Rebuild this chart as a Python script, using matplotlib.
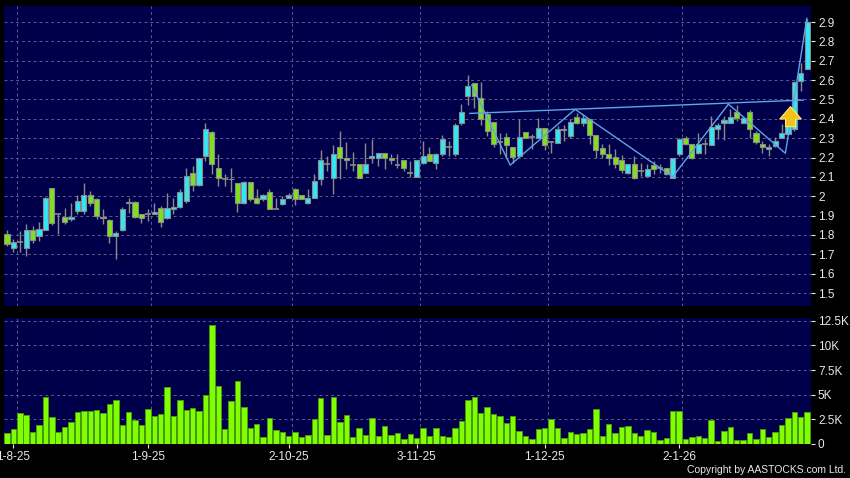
import matplotlib
matplotlib.use("Agg")
import matplotlib.pyplot as plt
import numpy as np

# daily candles, 31-7-25 .. end of Jan-26
opens = [1.803, 1.734, 1.762, 1.734, 1.824, 1.793, 1.824, 2.045, 1.907, 1.893,
         1.885, 1.924, 1.924, 2.005, 1.984, 1.893, 1.876, 1.795, 1.824, 1.972,
         1.972, 1.907, 1.907, 1.907, 1.941, 1.886, 1.933, 1.945, 1.976, 2.122,
         2.057, 2.209, 2.334, 2.145, 2.090, 2.090, 2.066, 1.964, 2.076, 1.993,
         1.984, 2.024, 1.933, 1.962, 1.993, 2.036, 2.005, 1.964, 1.993, 2.088,
         2.166, 2.093, 2.255, 2.197, 2.162, 2.166, 2.122, 2.200, 2.197, 2.226,
         2.197, 2.162, 2.186, 2.122, 2.102, 2.174, 2.217, 2.174, 2.217, 2.252,
         2.217, 2.376, 2.516, 2.584, 2.510, 2.424, 2.386, 2.278, 2.307, 2.252,
         2.209, 2.334, 2.307, 2.303, 2.355, 2.278, 2.274, 2.340, 2.312, 2.410,
         2.381, 2.398, 2.317, 2.248, 2.217, 2.205, 2.186, 2.122, 2.166, 2.131,
         2.105, 2.162, 2.145, 2.145, 2.093, 2.217, 2.303, 2.272, 2.226, 2.269,
         2.266, 2.347, 2.376, 2.381, 2.433, 2.381, 2.433, 2.329, 2.272, 2.243,
         2.260, 2.303, 2.324, 2.347, 2.597, 2.657]
highs = [1.824, 1.778, 1.820, 1.859, 1.847, 1.869, 1.995, 2.045, 1.907, 1.941,
         1.967, 2.007, 2.069, 2.028, 1.993, 1.933, 1.881, 1.820, 1.945, 1.993,
         1.976, 1.907, 1.933, 1.967, 1.950, 2.019, 1.993, 2.036, 2.148, 2.157,
         2.200, 2.376, 2.338, 2.217, 2.114, 2.148, 2.071, 2.079, 2.076, 2.036,
         2.014, 2.036, 1.993, 2.000, 2.019, 2.045, 2.005, 2.036, 2.114, 2.238,
         2.209, 2.266, 2.338, 2.281, 2.229, 2.166, 2.276, 2.295, 2.226, 2.226,
         2.217, 2.217, 2.186, 2.183, 2.186, 2.286, 2.252, 2.226, 2.317, 2.286,
         2.381, 2.476, 2.628, 2.584, 2.588, 2.441, 2.386, 2.329, 2.329, 2.252,
         2.398, 2.334, 2.321, 2.403, 2.355, 2.286, 2.364, 2.369, 2.398, 2.428,
         2.424, 2.398, 2.317, 2.272, 2.272, 2.243, 2.214, 2.166, 2.209, 2.174,
         2.166, 2.183, 2.166, 2.148, 2.200, 2.303, 2.312, 2.272, 2.329, 2.295,
         2.416, 2.381, 2.416, 2.450, 2.472, 2.416, 2.445, 2.338, 2.286, 2.269,
         2.307, 2.372, 2.424, 2.597, 2.690, 2.915]
lows = [1.743, 1.714, 1.714, 1.691, 1.760, 1.769, 1.824, 1.850, 1.803, 1.855,
        1.872, 1.907, 1.907, 1.950, 1.881, 1.855, 1.760, 1.674, 1.820, 1.915,
        1.886, 1.864, 1.872, 1.907, 1.841, 1.881, 1.907, 1.941, 1.967, 2.028,
        2.053, 2.183, 2.114, 2.053, 2.053, 2.024, 1.921, 1.959, 1.976, 1.959,
        1.976, 1.933, 1.933, 1.955, 1.993, 1.955, 1.984, 1.959, 1.993, 2.057,
        2.131, 2.014, 2.088, 2.140, 2.131, 2.093, 2.122, 2.174, 2.155, 2.140,
        2.166, 2.145, 2.131, 2.100, 2.100, 2.166, 2.183, 2.140, 2.209, 2.209,
        2.209, 2.369, 2.472, 2.455, 2.369, 2.312, 2.252, 2.217, 2.200, 2.174,
        2.209, 2.303, 2.243, 2.303, 2.238, 2.226, 2.274, 2.286, 2.303, 2.372,
        2.364, 2.269, 2.197, 2.197, 2.159, 2.148, 2.122, 2.114, 2.088, 2.105,
        2.097, 2.114, 2.119, 2.110, 2.093, 2.209, 2.266, 2.191, 2.217, 2.217,
        2.266, 2.295, 2.290, 2.376, 2.390, 2.376, 2.303, 2.269, 2.226, 2.209,
        2.252, 2.300, 2.320, 2.338, 2.545, 2.657]
closes = [1.755, 1.762, 1.762, 1.824, 1.772, 1.833, 1.993, 1.864, 1.907, 1.867,
          1.893, 1.976, 2.005, 1.967, 1.898, 1.886, 1.795, 1.812, 1.933, 1.965,
          1.893, 1.886, 1.907, 1.919, 1.867, 1.941, 1.945, 2.024, 2.105, 2.057,
          2.197, 2.347, 2.166, 2.093, 2.090, 2.088, 1.964, 2.076, 1.984, 1.964,
          2.005, 1.933, 1.933, 1.984, 2.005, 1.984, 1.988, 1.993, 2.079, 2.186,
          2.166, 2.217, 2.197, 2.186, 2.162, 2.093, 2.166, 2.209, 2.226, 2.197,
          2.186, 2.162, 2.145, 2.122, 2.186, 2.209, 2.183, 2.217, 2.295, 2.252,
          2.369, 2.434, 2.571, 2.516, 2.398, 2.338, 2.272, 2.278, 2.266, 2.205,
          2.307, 2.303, 2.307, 2.355, 2.266, 2.278, 2.347, 2.347, 2.386, 2.381,
          2.403, 2.317, 2.238, 2.217, 2.197, 2.169, 2.134, 2.166, 2.093, 2.131,
          2.143, 2.140, 2.145, 2.114, 2.197, 2.295, 2.272, 2.197, 2.272, 2.269,
          2.359, 2.369, 2.393, 2.410, 2.403, 2.403, 2.347, 2.278, 2.252, 2.255,
          2.286, 2.329, 2.416, 2.588, 2.638, 2.898]
volumes = [1.12, 1.46, 3.16, 2.92, 1.22, 1.90, 4.73, 2.75, 1.16, 1.67,
           2.24, 3.23, 3.30, 3.30, 3.43, 3.13, 4.01, 4.42, 1.90, 3.20,
           2.38, 1.90, 3.50, 2.82, 2.99, 5.75, 2.79, 4.45, 3.43, 3.64,
           3.37, 5.00, 12.07, 5.85, 1.53, 4.39, 6.39, 3.74, 1.60, 2.04,
           0.68, 2.62, 1.39, 1.22, 0.78, 1.19, 0.68, 0.85, 2.48, 4.66,
           0.85, 4.73, 2.21, 2.89, 0.68, 1.56, 0.92, 2.62, 0.78, 1.80,
           0.92, 1.12, 0.48, 0.99, 0.61, 1.60, 0.78, 1.60, 0.78, 0.68,
           1.56, 2.35, 4.45, 4.73, 3.09, 3.77, 3.03, 2.82, 2.07, 2.82,
           1.33, 0.78, 0.48, 1.53, 1.60, 2.48, 1.56, 0.61, 1.19, 0.99,
           1.05, 1.50, 3.50, 0.78, 1.97, 1.05, 1.67, 1.77, 1.09, 0.82,
           1.39, 1.16, 0.34, 0.54, 3.37, 3.33, 0.44, 0.65, 0.75, 0.58,
           2.38, 0.31, 1.29, 1.70, 0.37, 0.37, 1.05, 0.48, 1.50, 0.68,
           1.19, 1.90, 2.65, 3.20, 2.72, 3.23]  # thousands

date_idx = [1, 22, 44, 64, 84, 105]
date_labels = ['1-8-25', '1-9-25', '2-10-25', '3-11-25', '1-12-25', '2-1-26']

# drawn trend lines (bar index, price)
neck_x = [72.3, 124.4]
neck_y = [2.428, 2.497]
zig_x = [72.6, 78.6, 88.75, 104.0, 112.7, 121.6, 124.95]
zig_y = [2.575, 2.161, 2.449, 2.101, 2.476, 2.222, 2.919]
arrow_x = 122.4
arrow_y = [2.345, 2.478]

price_ticks = [1.5, 1.6, 1.7, 1.8, 1.9, 2.0, 2.1, 2.2, 2.3, 2.4, 2.5, 2.6, 2.7, 2.8, 2.9]
vol_ticks = [0, 2.5, 5, 7.5, 10, 12.5]

navy = '#00004a'
gridc = '#5c5c8c'
upc = '#33e6f2'
downc = '#80e020'
edgec = '#8a8a8a'
txt = '#e8e8e8'

plt.rcParams['font.family'] = ['Liberation Sans', 'DejaVu Sans']

fig = plt.figure(figsize=(8.5, 4.78), dpi=100, facecolor='black')
ax = fig.add_axes([4 / 850, 1 - 306 / 478, 807 / 850, 300 / 478])
axv = fig.add_axes([4 / 850, 1 - 444 / 478, 807 / 850, 126 / 478])

o = np.array(opens)
h = np.array(highs)
l = np.array(lows)
c = np.array(closes)
x = np.arange(len(o))

for a in (ax, axv):
    a.set_facecolor(navy)
    for s in a.spines.values():
        s.set_visible(False)
    a.set_xlim(-0.47, 125.6)
    a.grid(True, axis='y', color=gridc, linestyle=(0, (3, 3)), linewidth=0.7)
    for d in date_idx:
        a.axvline(d + 0.5, color=gridc, linestyle=(0, (3, 3)), linewidth=0.7, zorder=0.5)
    a.set_axisbelow(True)
    a.yaxis.tick_right()
    a.tick_params(axis='y', colors=txt, length=3, width=0.8, pad=2, labelsize=8.5)

# candles
ax.vlines(x, l, h, color=edgec, linewidth=1, zorder=2)
up = c > o
dn = c < o
eq = c == o
ax.bar(x[up], (c - o)[up], bottom=o[up], width=0.8, color=upc, edgecolor=edgec,
       linewidth=0.8, zorder=3)
ax.bar(x[dn], (o - c)[dn], bottom=c[dn], width=0.8, color=downc, edgecolor=edgec,
       linewidth=0.8, zorder=3)
ax.hlines(o[eq], x[eq] - 0.45, x[eq] + 0.45, color=edgec, linewidth=1.2, zorder=3)

ax.plot(neck_x, neck_y, color='#5aa6e6', linewidth=1, zorder=4)
ax.plot(zig_x, zig_y, color='#5aa6e6', linewidth=1, zorder=4)
ax.annotate('', xy=(arrow_x, arrow_y[1]), xytext=(arrow_x, arrow_y[0]),
            arrowprops=dict(arrowstyle='simple,head_length=0.75,head_width=1.3,tail_width=0.6',
                            mutation_scale=12, facecolor='#f5c21a', edgecolor='#fff27e',
                            linewidth=0.7), zorder=5)

ax.set_xticks([])
ax.set_ylim(1.433, 2.983)
ax.set_yticks(price_ticks)
ax.set_yticklabels(['%g' % p for p in price_ticks])

# volume
axv.bar(x, volumes, width=0.85, color='#80ff00', edgecolor='#4a9a10', linewidth=0.7, zorder=3)
axv.set_ylim(-0.03, 12.8)
axv.set_yticks(vol_ticks)
axv.set_yticklabels(['0' if v == 0 else '%gK' % v for v in vol_ticks])
axv.set_xticks(date_idx)
axv.set_xticklabels(date_labels)
axv.tick_params(axis='x', colors=txt, length=3, width=0.8, pad=2, labelsize=8.5)

fig.text(0.995, 0.006, 'Copyright by AASTOCKS.com Ltd.', ha='right', va='bottom',
         color=txt, fontsize=7.5)

fig.savefig('out.png', dpi=100, facecolor='black')
